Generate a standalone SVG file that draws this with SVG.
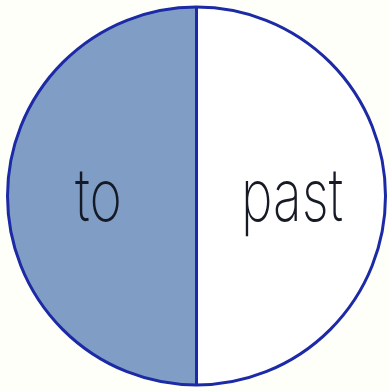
<svg xmlns="http://www.w3.org/2000/svg" width="389" height="391" viewBox="0 0 389 391">
<style>
.lbl{font-family:Inter,"DejaVu Sans",sans-serif;font-weight:200;font-size:74px;fill:#161a26}
.edge{fill:none;stroke:#1c2aa6;stroke-width:3}
</style>
<rect width="389" height="391" fill="#fffffa"/>
<g id="left-half">
<path d="M196.5,7 A189,189 0 0 0 196.5,385 Z" fill="#7f9dc5"/>
<text class="lbl" x="75" y="221" textLength="47" lengthAdjust="spacingAndGlyphs">to</text>
</g>
<g id="right-half">
<path d="M196.5,7 A189,189 0 0 1 196.5,385 Z" fill="#ffffff"/>
<text class="lbl" x="241" y="221" textLength="102" lengthAdjust="spacingAndGlyphs">past</text>
</g>
<g id="connectors">
<circle class="edge" cx="196.5" cy="196" r="189"/>
<line class="edge" x1="196.5" y1="7" x2="196.5" y2="385"/>
</g>
</svg>
